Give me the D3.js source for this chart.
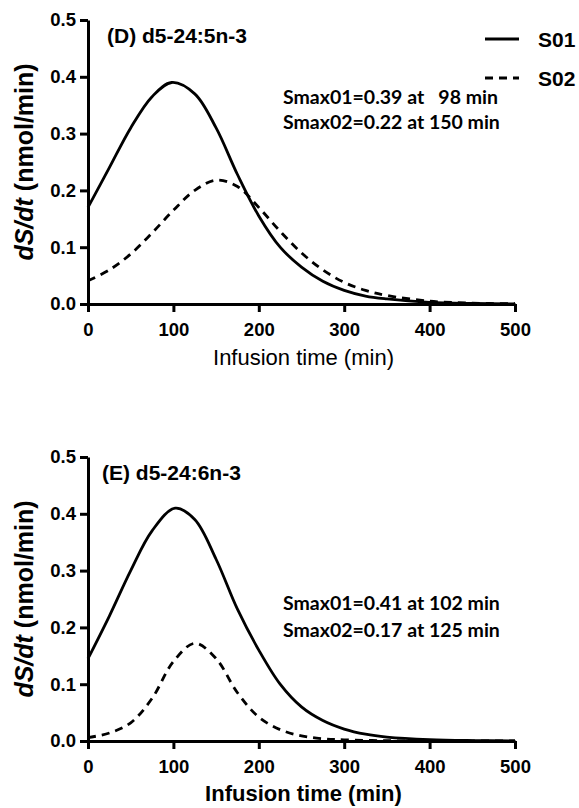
<!DOCTYPE html>
<html>
<head>
<meta charset="utf-8">
<script src="https://cdn.jsdelivr.net/npm/d3@7"></script>
<style>
body { margin:0; background:#fff; }
</style>
</head>
<body>
<div class="top"></div>
<script>

// panel D, time points (min) and rates (nmol/min)
const timeD = [0,25,50,75,98,125,150,175,200,225,250,275,300,325,350,400,450,500];
const s01D  = [0.17,0.24,0.31,0.365,0.39,0.37,0.31,0.228,0.155,0.1,0.065,0.04,0.024,0.014,0.009,0.003,0.001,0.0003];
const timeD2 = [0,25,50,75,100,125,150,175,200,225,250,275,300,325,350,400,450,500];
const s02D  = [0.041,0.06,0.088,0.125,0.165,0.2,0.218,0.207,0.17,0.128,0.09,0.06,0.038,0.024,0.015,0.005,0.0015,0.0004];

// panel E
const timeE = [0,25,50,75,102,125,150,175,200,225,250,275,300,325,350,400,450,500];
const s01E  = [0.145,0.22,0.3,0.37,0.41,0.39,0.32,0.232,0.16,0.1,0.06,0.036,0.021,0.012,0.007,0.0025,0.0008,0.0002];
const timeE2 = [0,25,50,75,100,125,150,175,200,225,250,275,300,350,400,450,500];
const s02E  = [0.006,0.014,0.032,0.075,0.14,0.172,0.145,0.085,0.042,0.02,0.009,0.004,0.002,0.0005,0.0001,0,0];

const xTicks = [0,100,200,300,400,500];
const yTicks = [0,0.1,0.2,0.3,0.4,0.5];

const panels = [
  {title:'(D) d5-24:5n-3', top:20, titleX:107, s01:timeD.map((t,i)=>[t,s01D[i]]), s02:timeD2.map((t,i)=>[t,s02D[i]]),
   notes:['Smax01=0.39 at   98 min','Smax02=0.22 at 150 min'], noteY:[97,122], xlabBold:false, xlabOff:61, legend:true},
  {title:'(E) d5-24:6n-3', top:457, titleX:102, s01:timeE.map((t,i)=>[t,s01E[i]]), s02:timeE2.map((t,i)=>[t,s02E[i]]),
   notes:['Smax01=0.41 at 102 min','Smax02=0.17 at 125 min'], noteY:[603,630], xlabBold:true, xlabOff:60, legend:false}
];

const W = 579, H = 808;
const x0 = 88, x1 = 515, plotH = 284;
const arial = '"Liberation Sans", Arial, sans-serif';

const svg = d3.select('.top').append('svg')
	.attr('width',W).attr('height',H)
	.style('font-family',arial);

svg.selectAll('g.panel').data(panels)
	.join('g').attr('class','panel')
	.each(function(p){
		const g = d3.select(this);
		const x = d3.scaleLinear().domain([0,500]).range([x0,x1]);
		const y = d3.scaleLinear().domain([0,0.5]).range([p.top+plotH,p.top]);
		const line = d3.line().x(d=>x(d[0])).y(d=>y(Math.max(0,d[1]))).curve(d3.curveCatmullRom.alpha(0.5));

		// curves
		g.append('path').datum(p.s02)
			.attr('d',line).attr('fill','none').attr('stroke','#000')
			.attr('stroke-width',2.8).attr('stroke-dasharray','8,6');
		g.append('path').datum(p.s01)
			.attr('d',line).attr('fill','none').attr('stroke','#000')
			.attr('stroke-width',2.8);

		// axes
		const styleAxis = sel=>{
			sel.select('.domain').attr('stroke-width',3);
			sel.selectAll('.tick line').attr('stroke-width',3);
			sel.selectAll('.tick text').style('font-size','18.5px').style('font-weight','bold')
				.style('font-family',arial);
		};
		g.append('g').attr('transform',`translate(0,${y(0)})`)
			.call(d3.axisBottom(x).tickValues(xTicks).tickSize(8).tickSizeOuter(0).tickPadding(11))
			.call(styleAxis);
		g.append('g').attr('transform',`translate(${x0},0)`)
			.call(d3.axisLeft(y).tickValues(yTicks).tickFormat(d3.format('.1f')).tickSize(8).tickSizeOuter(0).tickPadding(4))
			.call(styleAxis);

		// y label
		g.append('text')
			.attr('transform',`translate(33,${p.top+plotH/2}) rotate(-90)`)
			.attr('text-anchor','middle')
			.style('font-size','25px').style('font-weight','bold')
			.call(sel=>{
				sel.append('tspan').style('font-style','italic').text('dS/dt');
				sel.append('tspan').text(' (nmol/min)');
			});

		// x label
		g.append('text')
			.attr('x',(x0+x1)/2 + 2).attr('y',y(0)+p.xlabOff)
			.attr('text-anchor','middle')
			.style('font-size','22px').style('font-weight',p.xlabBold?'bold':'normal')
			.text('Infusion time (min)');

		// title
		g.append('text')
			.attr('x',p.titleX).attr('y',p.top+23)
			.style('font-size','21px').style('font-weight','bold')
			.text(p.title);

		// notes
		g.selectAll('.note').data(p.notes)
			.join('text').attr('class','note')
			.attr('x',283).attr('y',(d,i)=>p.noteY[i]+7)
			.attr('xml:space','preserve')
			.style('white-space','pre')
			.style('font-family','Lato, "Open Sans", sans-serif')
			.style('font-size','19.5px').style('font-weight','bold')
			.text(d=>d);

		if (p.legend) {
			const lg = g.append('g');
			[['S01',null,39],['S02','8,6',78]].forEach(([name,dash,ly])=>{
				lg.append('line').attr('x1',485).attr('x2',519).attr('y1',ly).attr('y2',ly)
					.attr('stroke','#000').attr('stroke-width',2.8)
					.attr('stroke-dasharray',dash);
				lg.append('text').attr('x',538).attr('y',ly+7.5)
					.style('font-size','21px').style('font-weight','bold')
					.text(name);
			});
		}
	});

</script>
</body>
</html>
